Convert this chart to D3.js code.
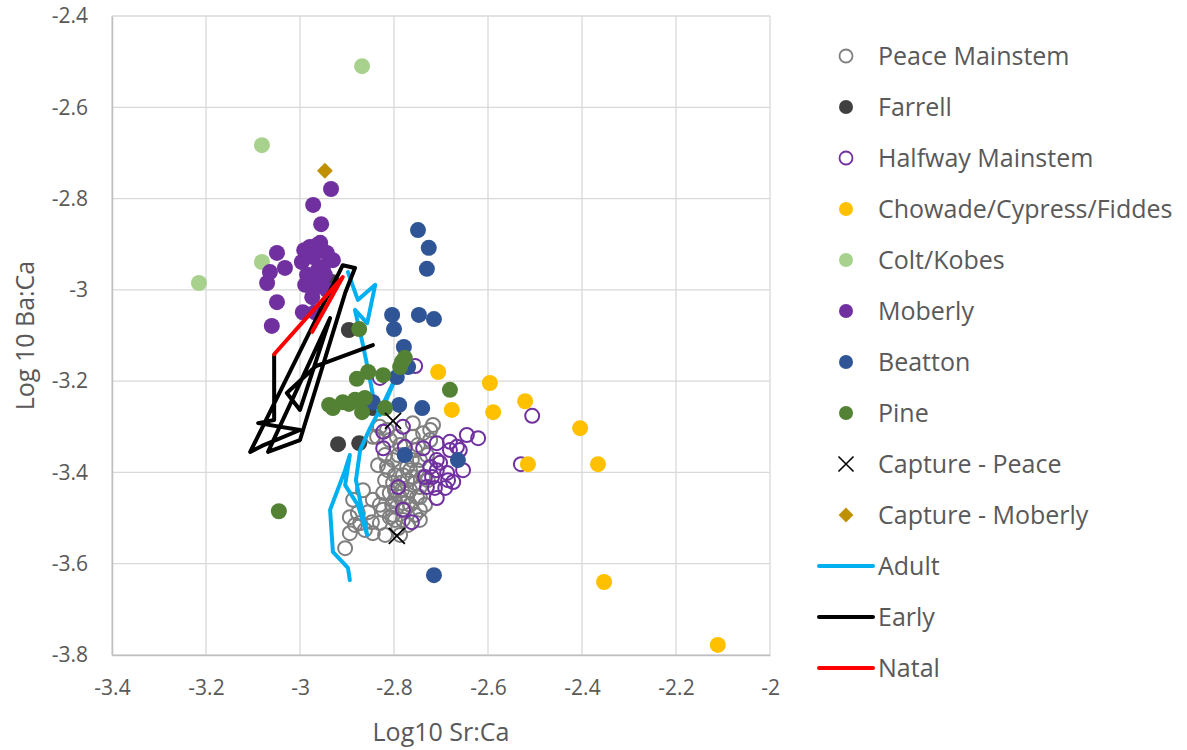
<!DOCTYPE html>
<html>
<head>
<meta charset="utf-8">
<script src="https://cdn.jsdelivr.net/npm/d3@7"></script>
<style>
  body { margin: 0; background: #fff; }
  text { font-family: "Segoe UI", "Open Sans", sans-serif; fill: #595959; }
</style>
</head>
<body>
<div class="chart"></div>
<script>
// Sr:Ca vs Ba:Ca scatter with otolith transect lines

// ---- data (log10 Sr:Ca, log10 Ba:Ca) ----
var peaceX = [-2.717,-2.738,-2.760,-2.830,-2.836,-2.760,-2.809,-2.787,-2.802,-2.815,-2.772,-2.760,-2.787,-2.809,-2.772,-2.751,-2.794,-2.809,-2.781,-2.791,
              -2.866,-2.887,-2.877,-2.894,-2.872,-2.845,-2.823,-2.845,-2.894,-2.904,-2.830,-2.823,-2.745,-2.738,-2.777,-2.798,-2.819,-2.766,-2.745,-2.730,
              -2.723,-2.755,-2.819,-2.798,-2.777,-2.830,-2.855,-2.847,-2.813,-2.723,-2.751,-2.834,-2.766,-2.802,-2.862,-2.883,-2.819,-2.787,-2.745,-2.734,
              -2.815,-2.794,-2.845,-2.781,-2.802,-2.766,-2.787,-2.791,-2.772,-2.755,-2.745,-2.798,
              -2.762,-2.783,-2.755,-2.798,-2.770,-2.745,-2.728,-2.749,-2.804,-2.781];
var peaceY = [-3.296,-3.314,-3.292,-3.300,-3.322,-3.322,-3.329,-3.340,-3.373,-3.388,-3.388,-3.410,-3.423,-3.445,-3.454,-3.454,-3.476,-3.498,-3.504,-3.522,
              -3.439,-3.460,-3.489,-3.498,-3.511,-3.460,-3.445,-3.533,-3.533,-3.566,-3.511,-3.482,-3.432,-3.410,-3.362,-3.406,-3.417,-3.439,-3.373,-3.362,
              -3.329,-3.351,-3.362,-3.460,-3.482,-3.471,-3.487,-3.509,-3.395,-3.307,-3.395,-3.384,-3.471,-3.493,-3.526,-3.515,-3.537,-3.537,-3.504,-3.471,
              -3.307,-3.322,-3.322,-3.406,-3.423,-3.395,-3.454,-3.362,-3.417,-3.423,-3.482,-3.439,
              -3.373,-3.439,-3.493,-3.504,-3.515,-3.454,-3.417,-3.340,-3.471,-3.467];

var farrellX = [-2.896,-2.919,-2.874,-2.845,-2.932];
var farrellY = [-3.088,-3.338,-3.336,-3.259,-2.983];

var halfwayX = [-2.506,-2.530,-2.755,-2.830,-2.823,-2.781,-2.823,-2.777,-2.738,-2.709,-2.681,-2.645,-2.621,-2.666,-2.660,-2.723,-2.709,-2.719,
                -2.702,-2.687,-2.674,-2.653,-2.730,-2.713,-2.691,-2.709,-2.791,-2.781,-2.762,-2.734,-2.709,-2.681,-2.685];
var halfwayY = [-3.276,-3.382,-3.167,-3.193,-3.311,-3.300,-3.347,-3.344,-3.347,-3.336,-3.333,-3.318,-3.325,-3.344,-3.351,-3.388,-3.395,-3.410,
                -3.379,-3.401,-3.421,-3.395,-3.432,-3.434,-3.434,-3.456,-3.432,-3.482,-3.509,-3.410,-3.373,-3.351,-3.417];

var chowadeX = [-2.706,-2.596,-2.521,-2.677,-2.589,-2.404,-2.515,-2.366,-2.353,-2.111];
var chowadeY = [-3.180,-3.204,-3.244,-3.263,-3.268,-3.303,-3.382,-3.382,-3.640,-3.778];

var coltX = [-2.868,-3.081,-3.081,-3.215];
var coltY = [-2.510,-2.683,-2.939,-2.985];

var moberlyX = [-2.934,-2.972,-2.955,-2.957,-2.991,-2.979,-2.964,-2.953,-3.049,-3.032,-3.064,-3.070,-3.049,-3.060,-2.996,
                -2.985,-2.972,-2.943,-2.930,-2.951,-2.964,-2.943,-2.974,-2.994,-2.968,-2.957,-2.962,-2.972,-2.989,-2.947];
var moberlyY = [-2.779,-2.814,-2.856,-2.897,-2.913,-2.906,-2.902,-2.913,-2.919,-2.952,-2.961,-2.985,-3.027,-3.079,-2.939,
                -2.967,-2.928,-2.919,-2.935,-2.950,-2.978,-3.000,-3.016,-3.049,-3.049,-2.985,-2.957,-3.000,-2.989,-2.967];

var beattonX = [-2.749,-2.726,-2.730,-2.804,-2.747,-2.715,-2.800,-2.779,-2.770,-2.794,-2.845,-2.789,-2.740,-2.777,-2.664,-2.715];
var beattonY = [-2.869,-2.908,-2.954,-3.055,-3.055,-3.064,-3.086,-3.125,-3.169,-3.191,-3.246,-3.252,-3.259,-3.362,-3.373,-3.625];

var pineX = [-2.874,-2.783,-2.777,-2.787,-2.855,-2.823,-2.879,-2.681,-2.938,-2.909,-2.896,-2.883,-2.862,-2.868,-2.819,-3.045,-2.930];
var pineY = [-3.086,-3.158,-3.149,-3.169,-3.180,-3.187,-3.195,-3.219,-3.252,-3.246,-3.250,-3.241,-3.237,-3.268,-3.259,-3.485,-3.259];

var capPeaceX = [-2.802,-2.794];
var capPeaceY = [-3.287,-3.539];

var capMoberlyX = [-2.947];
var capMoberlyY = [-2.739];

var adultX = [-2.898,-2.877,-2.840,-2.857,-2.883,-2.866,-2.855,-2.845,-2.830,-2.791,-2.819,-2.851,-2.872,-2.881,-2.868,-2.857,
              -2.877,-2.904,-2.894,-2.904,-2.936,-2.930,-2.898,-2.894];
var adultY = [-2.961,-3.022,-2.989,-3.073,-3.044,-3.121,-3.176,-3.230,-3.274,-3.180,-3.241,-3.303,-3.351,-3.417,-3.482,-3.537,
              -3.471,-3.428,-3.362,-3.395,-3.482,-3.574,-3.609,-3.636];

var earlyX = [-3.055,-3.055,-3.089,-3.000,-3.081,-3.106,-2.909,-2.883,-2.904,-3.000,-3.068,-2.936,-3.000,-3.028,-2.966,-2.845];
var earlyY = [-3.143,-3.285,-3.292,-3.307,-3.342,-3.355,-2.946,-2.952,-3.007,-3.329,-3.355,-3.062,-3.263,-3.226,-3.167,-3.121];

var natalX = [-3.055,-2.909,-2.974];
var natalY = [-3.141,-2.972,-3.092];

var xTicks = [-3.4,-3.2,-3,-2.8,-2.6,-2.4,-2.2,-2];
var yTicks = [-2.4,-2.6,-2.8,-3,-3.2,-3.4,-3.6,-3.8];

// ---- layout ----
var svgWidth = 1187;
var svgHeight = 750;
var margin = { top: 16, right: 417, bottom: 95, left: 112 };
var width = svgWidth - margin.left - margin.right;
var height = svgHeight - margin.top - margin.bottom;

var svg = d3.select(".chart")
    .append("svg")
    .attr("width", svgWidth)
    .attr("height", svgHeight);

var chartGroup = svg.append("g")
    .attr("transform", `translate(${margin.left}, ${margin.top})`);

var xScale = d3.scaleLinear().domain([-3.4, -2]).range([0, width]);
var yScale = d3.scaleLinear().domain([-3.8, -2.4]).range([height, 0]);

var fmt = d => String(Math.round(d * 10) / 10);

// gridlines
chartGroup.append("g")
    .selectAll("line")
    .data(yTicks)
    .enter()
    .append("line")
    .attr("x1", 0).attr("x2", width)
    .attr("y1", d => yScale(d)).attr("y2", d => yScale(d))
    .attr("stroke", "#d9d9d9").attr("stroke-width", 1.3);

chartGroup.append("g")
    .selectAll("line")
    .data(xTicks)
    .enter()
    .append("line")
    .attr("x1", d => xScale(d)).attr("x2", d => xScale(d))
    .attr("y1", 0).attr("y2", height)
    .attr("stroke", "#d9d9d9").attr("stroke-width", 1.3);

// axes
var bottomAxis = d3.axisBottom(xScale).tickValues(xTicks).tickSize(0).tickPadding(25).tickFormat(fmt);
var leftAxis = d3.axisLeft(yScale).tickValues(yTicks).tickSize(0).tickPadding(24).tickFormat(fmt);

var gx = chartGroup.append("g")
    .attr("transform", `translate(0, ${height})`)
    .call(bottomAxis);
var gy = chartGroup.append("g").call(leftAxis);

[gx, gy].forEach(function (g) {
    g.select(".domain").attr("stroke", "#bfbfbf").attr("stroke-width", 1.5);
    g.selectAll("text").style("font-size", "21px").attr("fill", "#595959");
});

// axis titles
chartGroup.append("text")
    .attr("x", xScale(-2.7))
    .attr("y", height + 86)
    .attr("text-anchor", "middle")
    .style("font-size", "25px")
    .text("Log10 Sr:Ca");

chartGroup.append("text")
    .attr("transform", "rotate(-90)")
    .attr("x", -(yScale(-3.1)))
    .attr("y", -78)
    .attr("text-anchor", "middle")
    .style("font-size", "25px")
    .text("Log 10 Ba:Ca");

function zipPts(xs, ys) {
    return xs.map((x, i) => ({ x: x, y: ys[i] }));
}

function drawCircles(xs, ys, fill, stroke, r) {
    chartGroup.append("g")
        .selectAll("circle")
        .data(zipPts(xs, ys))
        .enter()
        .append("circle")
        .attr("cx", d => xScale(d.x))
        .attr("cy", d => yScale(d.y))
        .attr("r", r)
        .attr("fill", fill)
        .attr("stroke", stroke)
        .attr("stroke-width", stroke === "none" ? 0 : 2);
}

var line = d3.line().x(d => xScale(d.x)).y(d => yScale(d.y));

function drawPath(xs, ys, color) {
    chartGroup.append("path")
        .datum(zipPts(xs, ys))
        .attr("d", line)
        .attr("fill", "none")
        .attr("stroke", color)
        .attr("stroke-width", 4)
        .attr("stroke-linejoin", "round")
        .attr("stroke-linecap", "round");
}

// marks
drawCircles(peaceX, peaceY, "none", "#7f7f7f", 7);
drawCircles(farrellX, farrellY, "#404040", "none", 8);
drawCircles(halfwayX, halfwayY, "none", "#7030a0", 7);
drawCircles(chowadeX, chowadeY, "#ffc000", "none", 8);
drawCircles(coltX, coltY, "#a9d18e", "none", 8);
drawCircles(moberlyX, moberlyY, "#7030a0", "none", 8);
drawPath(adultX, adultY, "#00b0f0");
drawPath(earlyX, earlyY, "#000000");
drawPath(natalX, natalY, "#ff0000");
drawCircles(beattonX, beattonY, "#2f5597", "none", 8);
drawCircles(pineX, pineY, "#548235", "none", 8);

// capture markers
var xMark = d3.symbol().type(d3.symbolX).size(170);
chartGroup.append("g")
    .selectAll("path")
    .data(zipPts(capPeaceX, capPeaceY))
    .enter()
    .append("path")
    .attr("d", xMark)
    .attr("transform", d => `translate(${xScale(d.x)}, ${yScale(d.y)})`)
    .attr("fill", "none")
    .attr("stroke", "#000")
    .attr("stroke-width", 1.8);

var diamond = d3.symbol().type(d3.symbolDiamond2).size(160);
chartGroup.append("g")
    .selectAll("path")
    .data(zipPts(capMoberlyX, capMoberlyY))
    .enter()
    .append("path")
    .attr("d", diamond)
    .attr("transform", d => `translate(${xScale(d.x)}, ${yScale(d.y)})`)
    .attr("fill", "#bf9000");

// legend
var legendItems = [
    { name: "Peace Mainstem", kind: "open", color: "#7f7f7f" },
    { name: "Farrell", kind: "dot", color: "#404040" },
    { name: "Halfway Mainstem", kind: "open", color: "#7030a0" },
    { name: "Chowade/Cypress/Fiddes", kind: "dot", color: "#ffc000" },
    { name: "Colt/Kobes", kind: "dot", color: "#a9d18e" },
    { name: "Moberly", kind: "dot", color: "#7030a0" },
    { name: "Beatton", kind: "dot", color: "#2f5597" },
    { name: "Pine", kind: "dot", color: "#548235" },
    { name: "Capture - Peace", kind: "x", color: "#000" },
    { name: "Capture - Moberly", kind: "diamond", color: "#bf9000" },
    { name: "Adult", kind: "line", color: "#00b0f0" },
    { name: "Early", kind: "line", color: "#000000" },
    { name: "Natal", kind: "line", color: "#ff0000" }
];

var legend = svg.append("g").attr("transform", "translate(846, 56)");
var rows = legend.selectAll("g")
    .data(legendItems)
    .enter()
    .append("g")
    .attr("transform", (d, i) => `translate(0, ${i * 51})`);

rows.each(function (d) {
    var g = d3.select(this);
    if (d.kind === "dot") {
        g.append("circle").attr("r", 7).attr("fill", d.color);
    } else if (d.kind === "open") {
        g.append("circle").attr("r", 6.5).attr("fill", "none").attr("stroke", d.color).attr("stroke-width", 1.8);
    } else if (d.kind === "x") {
        g.append("path").attr("d", d3.symbol().type(d3.symbolX).size(150))
            .attr("fill", "none").attr("stroke", d.color).attr("stroke-width", 1.6);
    } else if (d.kind === "diamond") {
        g.append("path").attr("d", d3.symbol().type(d3.symbolDiamond2).size(140)).attr("fill", d.color);
    } else {
        g.append("line").attr("x1", -27).attr("x2", 27)
            .attr("stroke", d.color).attr("stroke-width", 4).attr("stroke-linecap", "round");
    }
    g.append("text")
        .attr("x", 32)
        .attr("dy", "0.35em")
        .style("font-size", "25px")
        .text(d.name);
});
</script>
</body>
</html>
